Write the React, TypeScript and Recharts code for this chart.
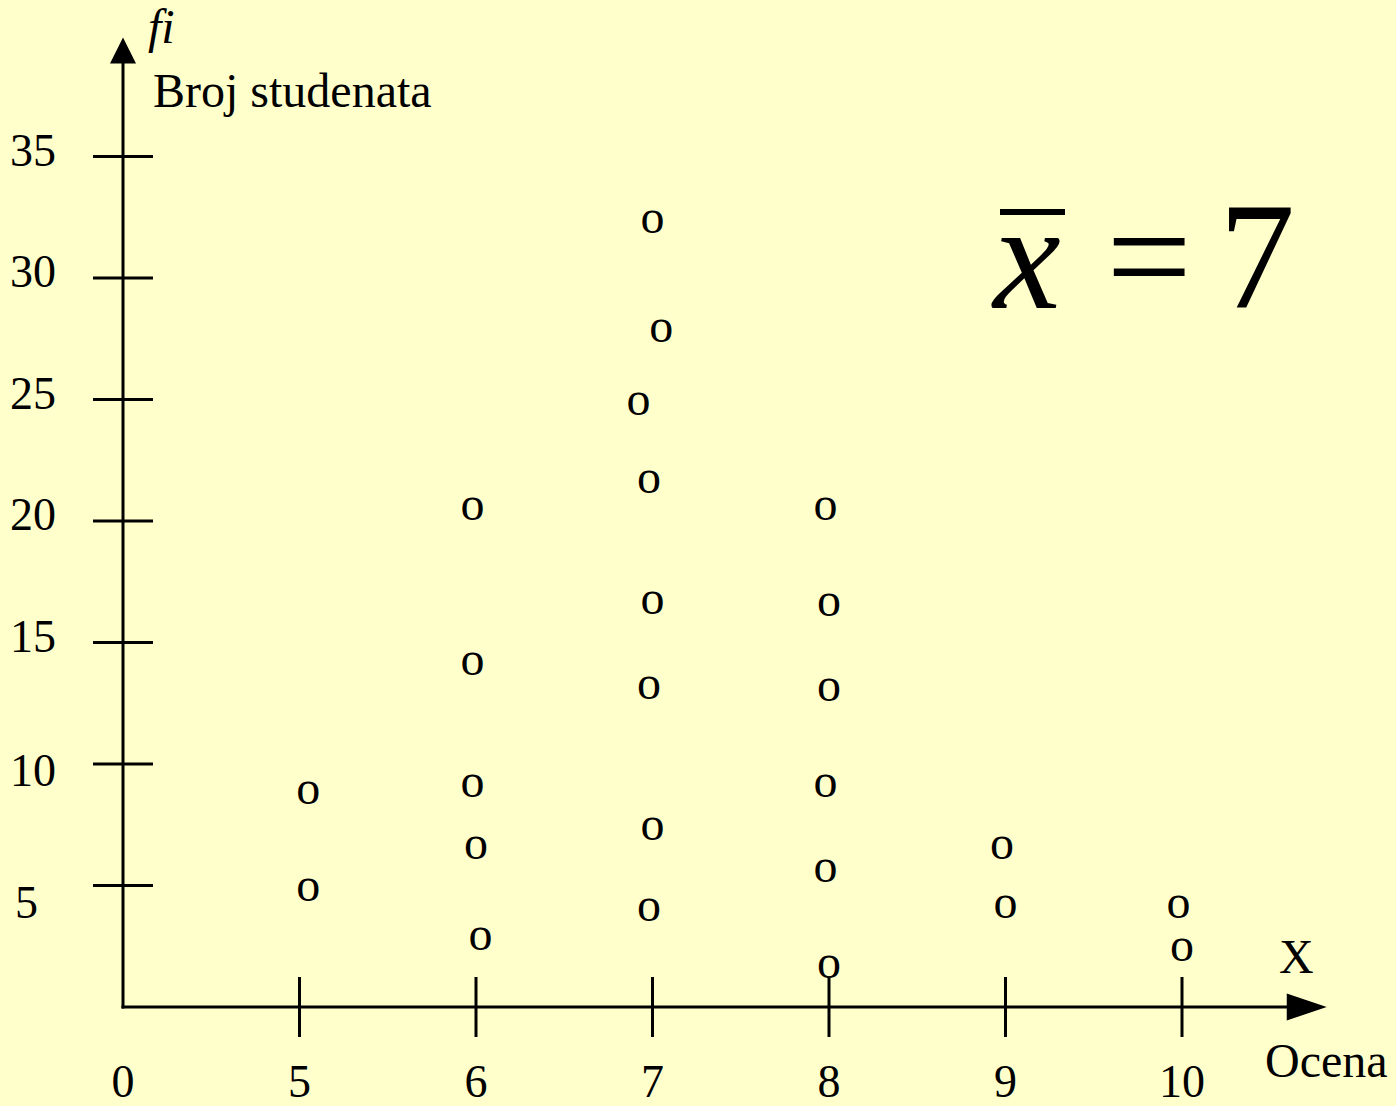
import { ScatterChart, Scatter, XAxis, YAxis, ReferenceLine } from "recharts";

const SERIF = '"Liberation Serif", "Times New Roman", serif';
const INK = "#000000";
const PAPER = "#FFFFCC";

// x axis slots: slot 0 is the origin, slots 1..6 are the grades
const xTickLabels = ["0", "5", "6", "7", "8", "9", "10"];
const grades = [5, 6, 7, 8, 9, 10];
const yTicks = [5, 10, 15, 20, 25, 30, 35];

// fi values of the "o" marks in each grade column
const marks5 = [8.8, 4.8];
const marks6 = [20.5, 14.1, 9.1, 6.55, 2.8];
const marks7 = [32.3, 27.8, 24.8, 21.6, 16.6, 13.1, 7.3, 4.0];
const marks8 = [20.5, 16.55, 13.05, 9.1, 5.6, 1.65];
const marks9 = [6.55, 4.1];
const marks10 = [4.1, 2.35];

// sideways shift of each mark inside its column (in slot units)
const shift5 = [0.05, 0.05];
const shift6 = [-0.02, -0.02, -0.02, 0, 0.025];
const shift7 = [0, 0.05, -0.08, -0.02, 0, -0.02, 0, -0.02];
const shift8 = [-0.02, 0, 0, -0.02, -0.02, 0];
const shift9 = [-0.02, 0];
const shift10 = [-0.02, 0];

const marks = [marks5, marks6, marks7, marks8, marks9, marks10];
const shifts = [shift5, shift6, shift7, shift8, shift9, shift10];

const points = grades.flatMap((grade, gi) =>
  marks[gi].map((fi, k) => ({ grade, x: gi + 1 + shifts[gi][k], fi })),
);

function renderO(props: any) {
  const { cx, cy } = props;
  return (
    <text x={cx} y={cy} dy="0.225em" textAnchor="middle" fontFamily={SERIF} fontSize={48} fill={INK}>
      o
    </text>
  );
}

function XTick(props: any) {
  const { x, y, payload } = props;
  return (
    <g>
      {payload.value > 0 && (
        <line x1={x} x2={x} y1={y - 30} y2={y + 30} stroke={INK} strokeWidth={3} />
      )}
      <text x={x} y={y + 90} textAnchor="middle" fontFamily={SERIF} fontSize={46} fill={INK}>
        {xTickLabels[payload.value]}
      </text>
    </g>
  );
}

function YTick(props: any) {
  const { x, y, payload } = props;
  const v = payload.value as number;
  // the lowest labels sit a little under their ticks
  const dy = v === 5 ? 32 : v === 10 ? 22 : 9;
  return (
    <g>
      <line x1={x - 30} x2={x + 30} y1={y} y2={y} stroke={INK} strokeWidth={3} />
      <text x={v === 5 ? 15 : 10} y={y + dy} textAnchor="start" fontFamily={SERIF} fontSize={46} fill={INK}>
        {v}
      </text>
    </g>
  );
}

function arrowShape(len: number, half: number) {
  return (props: any) => {
    const { x1, y1, x2, y2 } = props;
    const dx = x2 - x1;
    const dy = y2 - y1;
    const d = Math.hypot(dx, dy) || 1;
    const ux = dx / d;
    const uy = dy / d;
    const bx = x2 - ux * len;
    const by = y2 - uy * len;
    return (
      <g>
        <line x1={x1} y1={y1} x2={bx} y2={by} stroke={INK} strokeWidth={3} strokeLinecap="square" />
        <polygon
          points={`${x2},${y2} ${bx - uy * half},${by + ux * half} ${bx + uy * half},${by - ux * half}`}
          fill={INK}
        />
      </g>
    );
  };
}

export default function App() {
  return (
    <div style={{ position: "absolute", left: 0, top: 0, width: 1396, height: 1106, background: PAPER }}>
      <ScatterChart width={1396} height={1106} margin={{ top: 35, right: 37.5, bottom: 0, left: 0 }}>
        <XAxis
          type="number"
          dataKey="x"
          domain={[0, 7]}
          ticks={[0, 1, 2, 3, 4, 5, 6]}
          interval={0}
          height={99}
          axisLine={false}
          tickLine={false}
          tickSize={0}
          tickMargin={0}
          tick={<XTick />}
        />
        <YAxis
          type="number"
          dataKey="fi"
          domain={[0, 40]}
          ticks={yTicks}
          interval={0}
          width={123}
          axisLine={false}
          tickLine={false}
          tickSize={0}
          tickMargin={0}
          tick={<YTick />}
        />
        <ReferenceLine
          segment={[
            { x: 0, y: 0 },
            { x: 6.82, y: 0 },
          ]}
          shape={arrowShape(40, 13.5)}
        />
        <ReferenceLine
          segment={[
            { x: 0, y: 0 },
            { x: 0, y: 39.9 },
          ]}
          shape={arrowShape(26, 13)}
        />
        <Scatter data={points} dataKey="fi" shape={renderO} isAnimationActive={false} />

        <text x={148} y={43} fontFamily={SERIF} fontStyle="italic" fontSize={48} fill={INK}>
          fi
        </text>
        <text x={153} y={107} fontFamily={SERIF} fontSize={48} fill={INK}>
          Broj studenata
        </text>
        <text x={1279} y={973} fontFamily={SERIF} fontSize={48} fill={INK}>
          X
        </text>
        <text x={1265} y={1077} fontFamily={SERIF} fontSize={48} fill={INK}>
          Ocena
        </text>

        <g fontFamily={SERIF} fontSize={152} fill={INK}>
          <line x1={1000} x2={1065} y1={212} y2={212} stroke={INK} strokeWidth={6} />
          <text x={1027} y={308} textAnchor="middle" fontStyle="italic">
            x
          </text>
          <text x={1149} y={308} textAnchor="middle">
            =
          </text>
          <text x={1257} y={308} textAnchor="middle">
            7
          </text>
        </g>
      </ScatterChart>
    </div>
  );
}
